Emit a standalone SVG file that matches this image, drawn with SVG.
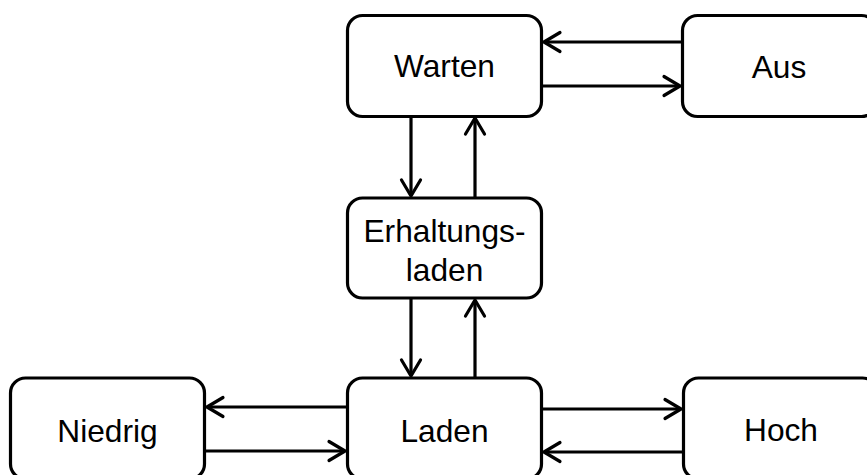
<svg xmlns="http://www.w3.org/2000/svg" width="867" height="475" viewBox="0 0 867 475">
<defs>
<marker id="ah" viewBox="-20 -12 24 24" markerWidth="24" markerHeight="24" refX="0" refY="0" orient="auto" markerUnits="userSpaceOnUse">
<path d="M-16,-9.5 L0,0 L-16,9.5" fill="none" stroke="#000" stroke-width="3.2" stroke-linecap="round" stroke-linejoin="round"/>
</marker>
</defs>
<style>
.box{fill:#fff;stroke:#000;stroke-width:3.2}
.lbl{font-family:"Liberation Sans",Arial,sans-serif;font-size:31.7px;fill:#000;text-anchor:middle}
.c{stroke:#000;stroke-width:3.2;fill:none;marker-end:url(#ah)}
</style>
<rect width="867" height="475" fill="#fff"/>
<g id="connectors">
<line class="c" x1="681" y1="42" x2="544" y2="42"/>
<line class="c" x1="543" y1="86" x2="680" y2="86"/>
<line class="c" x1="411" y1="117" x2="411" y2="196"/>
<line class="c" x1="475" y1="197" x2="475" y2="118"/>
<line class="c" x1="411" y1="299" x2="411" y2="376"/>
<line class="c" x1="475" y1="377" x2="475" y2="300"/>
<line class="c" x1="346" y1="407" x2="207" y2="407"/>
<line class="c" x1="205" y1="451" x2="345" y2="451"/>
<line class="c" x1="543" y1="409" x2="681" y2="409"/>
<line class="c" x1="683" y1="452" x2="544" y2="452"/>
</g>
<g id="warten">
<rect class="box" x="347.5" y="15.5" width="194" height="101" rx="15"/>
<text class="lbl" x="444.5" y="77">Warten</text>
</g>
<g id="aus">
<rect class="box" x="682.5" y="15.5" width="194" height="101" rx="15"/>
<text class="lbl" x="779" y="78">Aus</text>
</g>
<g id="erhaltungsladen">
<rect class="box" x="347.5" y="198" width="194" height="100" rx="15"/>
<text class="lbl" x="444.5" y="241.5">Erhaltungs-</text>
<text class="lbl" x="444.5" y="280.5">laden</text>
</g>
<g id="niedrig">
<rect class="box" x="10.5" y="378" width="194" height="101" rx="15"/>
<text class="lbl" x="107.5" y="441.5">Niedrig</text>
</g>
<g id="laden">
<rect class="box" x="347.5" y="378" width="194" height="101" rx="15"/>
<text class="lbl" x="444.5" y="441.5">Laden</text>
</g>
<g id="hoch">
<rect class="box" x="683.5" y="378" width="194" height="101" rx="15"/>
<text class="lbl" x="781" y="440.5">Hoch</text>
</g>
</svg>
